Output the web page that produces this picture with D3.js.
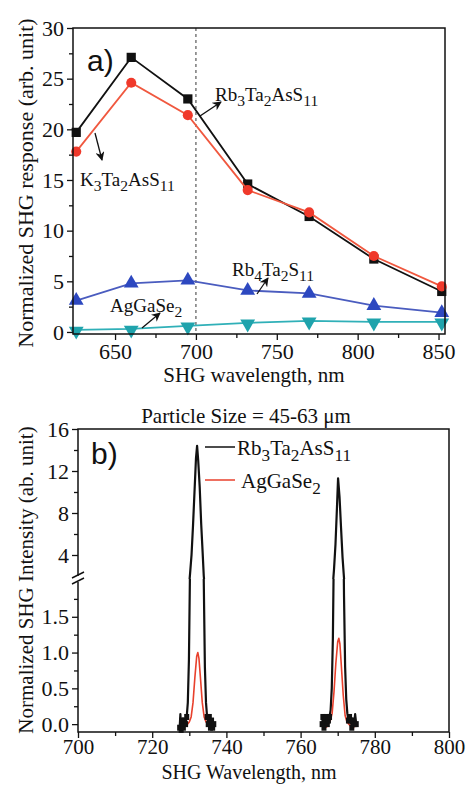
<!DOCTYPE html>
<html><head><meta charset="utf-8">
<script src="https://cdn.jsdelivr.net/npm/d3@7"></script>
<style>
html,body{margin:0;padding:0;background:#fff;}
svg{display:block;}
text{font-family:"Liberation Serif","Times New Roman",serif;fill:#111;}
.sans{font-family:"Liberation Sans",Arial,sans-serif;}
</style></head>
<body>
<svg id="c" width="467" height="785"></svg>
<script>
// ---------- Data: panel a ----------
const wavelengthsA = [626, 660, 695, 732, 770, 810, 852];
const rb3Ta2AsS11 = [19.7, 27.1, 23.0, 14.6, 11.4, 7.2, 4.0];
const k3Ta2AsS11  = [17.8, 24.6, 21.4, 14.0, 11.8, 7.5, 4.5];
const rb4Ta2S11   = [3.1, 4.8, 5.1, 4.1, 3.8, 2.6, 1.9];
const agGaSe2A    = [0.2, 0.3, 0.6, 0.9, 1.1, 1.0, 1.0];
const xTicksA = [650, 700, 750, 800, 850];
const yTicksA = [0, 5, 10, 15, 20, 25, 30];

// ---------- Data: panel b ----------
const blackX1 = [727.4,727.6,727.8,728.0,728.2,728.4,728.7,729.0,729.3,729.6,729.9,730.2,730.6,731.0,731.4,731.8,732.1,732.4,732.8,733.2,733.6,733.9,734.2,734.5,734.8,735.1,735.4,735.7,736.0,736.3,736.6];
const blackY1 = [-0.05,0.14,-0.08,0.05,0.02,-0.05,0.05,0.0,0.1,0.3,0.9,2.2,4.0,6.8,10.0,13.2,14.4,13.0,10.5,7.0,4.2,2.0,0.8,0.3,0.1,0.0,0.1,-0.05,0.05,-0.05,0.0];
const blackX2 = [765.8,766.0,766.3,766.6,766.9,767.2,767.5,767.8,768.1,768.4,768.7,769.0,769.4,769.8,770.1,770.5,770.9,771.3,771.7,772.0,772.3,772.6,772.9,773.2,773.5,773.8,774.1,774.4,774.7,775.0];
const blackY2 = [0.0,0.1,-0.05,0.05,0.1,0.0,0.05,0.1,0.2,0.5,1.2,2.6,5.0,8.5,11.3,9.5,6.6,3.8,1.8,0.8,0.35,0.15,0.05,0.1,0.05,-0.05,0.05,0.0,0.14,0.0];
const redX1 = [729.5,730.0,730.5,731.0,731.5,732.0,732.3,732.6,733.0,733.5,734.0,734.5,735.0];
const redY1 = [0.0,0.03,0.1,0.3,0.65,0.95,1.0,0.92,0.65,0.3,0.1,0.03,0.0];
const redX2 = [765.8,766.5,767.0,767.5,768.0,768.5,769.0,769.5,770.0,770.3,770.6,771.0,771.5,772.0,772.5,773.0,773.5,774.5];
const redY2 = [-0.05,-0.05,-0.04,0.0,0.05,0.15,0.45,0.85,1.15,1.2,1.12,0.8,0.4,0.12,0.03,0.0,-0.03,-0.05];
const xTicksB = [700, 720, 740, 760, 780, 800];
const yTicksBUpper = [4, 8, 12, 16];
const yTicksBLower = [0.0, 0.5, 1.0, 1.5];

const svg = d3.select("#c");

function chem(g, x, y, str, size, anchor) {
  const t = g.append("text").attr("x", x).attr("y", y)
    .attr("font-size", size).attr("text-anchor", anchor || "start");
  const parts = str.match(/(\d+|\D+)/g);
  let sub = false;
  parts.forEach(p => {
    const isNum = /^\d+$/.test(p);
    const ts = t.append("tspan").text(p);
    if (isNum && !sub) { ts.attr("dy", size * 0.28).attr("font-size", size * 0.82); sub = true; }
    else if (isNum) { ts.attr("font-size", size * 0.82); }
    else if (!isNum && sub) { ts.attr("dy", -size * 0.28); sub = false; }
  });
  return t;
}

svg.append("defs").append("marker").attr("id", "arr")
  .attr("viewBox", "0 0 10 10").attr("refX", 9).attr("refY", 5)
  .attr("markerWidth", 7).attr("markerHeight", 7).attr("orient", "auto")
  .append("path").attr("d", "M0,0 L10,5 L0,10 L3,5 z").attr("fill", "#111");

// ================= Panel a =================
const A = {l: 73, r: 445, t: 28, b: 334};
const xA = d3.scaleLinear().domain([624, 854]).range([A.l, A.r]);
const yA = d3.scaleLinear().domain([-0.2, 30]).range([A.b, A.t]);
const gA = svg.append("g");

gA.append("line").attr("x1", xA(700)).attr("x2", xA(700)).attr("y1", A.t).attr("y2", A.b)
  .attr("stroke", "#666").attr("stroke-width", 1.3).attr("stroke-dasharray", "3,3");

const seriesA = [
  {v: rb3Ta2AsS11, color: "#111", line: "#111", sym: d3.symbolSquare, size: 85, rot: 0},
  {v: k3Ta2AsS11, color: "#f0392b", line: "#f0583f", sym: d3.symbolCircle, size: 80, rot: 0},
  {v: rb4Ta2S11, color: "#2d48c0", line: "#4a5cbf", sym: d3.symbolTriangle, size: 95, rot: 0},
  {v: agGaSe2A, color: "#1fa3ac", line: "#30b0b8", sym: d3.symbolTriangle, size: 95, rot: 180}
];
seriesA.forEach(s => {
  const pts = wavelengthsA.map((w, i) => [w, s.v[i]]);
  gA.append("path").datum(pts)
    .attr("d", d3.line().x(d => xA(d[0])).y(d => yA(d[1])))
    .attr("fill", "none").attr("stroke", s.line).attr("stroke-width", 1.8);
  gA.selectAll(null).data(pts).enter().append("path")
    .attr("d", d3.symbol().type(s.sym).size(s.size))
    .attr("transform", d => `translate(${xA(d[0])},${yA(d[1]) + (s.rot ? 1 : 0)}) rotate(${s.rot})`)
    .attr("fill", s.color);
});

gA.append("rect").attr("x", A.l).attr("y", A.t).attr("width", A.r - A.l).attr("height", A.b - A.t)
  .attr("fill", "none").attr("stroke", "#111").attr("stroke-width", 1.5);
const axXA = gA.append("g").attr("transform", `translate(0,${A.b})`)
  .call(d3.axisBottom(xA).tickValues(xTicksA).tickSize(6).tickFormat(d3.format("d")));
const axXAm = gA.append("g").attr("transform", `translate(0,${A.b})`)
  .call(d3.axisBottom(xA).tickValues([675, 725, 775, 825]).tickSize(4).tickFormat(""));
const axYA = gA.append("g").attr("transform", `translate(${A.l},0)`)
  .call(d3.axisLeft(yA).tickValues(yTicksA).tickSize(6).tickFormat(d3.format("d")));
const axYAm = gA.append("g").attr("transform", `translate(${A.l},0)`)
  .call(d3.axisLeft(yA).tickValues([2.5, 7.5, 12.5, 17.5, 22.5, 27.5]).tickSize(4).tickFormat(""));
[axXA, axXAm, axYA, axYAm].forEach(a => {
  a.select(".domain").remove();
  a.selectAll("line").attr("stroke", "#111").attr("stroke-width", 1.3);
  a.selectAll("text").attr("font-size", 22).attr("fill", "#111")
    .attr("font-family", '"Liberation Serif", serif');
});

gA.append("text").attr("class", "sans").attr("x", 87).attr("y", 71).attr("font-size", 30).text("a)");
gA.append("text").attr("x", 254).attr("y", 382).attr("font-size", 21).attr("text-anchor", "middle")
  .text("SHG wavelength, nm");
gA.append("text").attr("transform", "translate(33,183) rotate(-90)").attr("font-size", 22)
  .attr("text-anchor", "middle").text("Normalized SHG response (arb. unit)");

chem(gA, 215, 101, "Rb3Ta2AsS11", 19);
chem(gA, 80, 186, "K3Ta2AsS11", 19);
chem(gA, 232, 276, "Rb4Ta2S11", 19);
chem(gA, 110, 312, "AgGaSe2", 19);
const arrows = [[200, 116, 221, 102], [95, 133, 102, 160], [257, 294, 268, 278], [142, 328, 160, 313]];
arrows.forEach(a => gA.append("line").attr("x1", a[0]).attr("y1", a[1]).attr("x2", a[2]).attr("y2", a[3])
  .attr("stroke", "#111").attr("stroke-width", 1.3).attr("marker-end", "url(#arr)"));

// ================= Panel b =================
const B = {l: 78, r: 449, t: 429, b: 732, brk: 579};
const xB = d3.scaleLinear().domain([700, 800]).range([B.l, B.r]);
const yBU = d3.scaleLinear().domain([2, 16]).range([576, B.t]);
const yBL = d3.scaleLinear().domain([-0.11, 2.0]).range([B.b, 581]);
const gB = svg.append("g");
const defs = svg.select("defs");
defs.append("clipPath").attr("id", "clipU").append("rect")
  .attr("x", B.l).attr("y", B.t).attr("width", B.r - B.l).attr("height", B.brk - B.t);
defs.append("clipPath").attr("id", "clipL").append("rect")
  .attr("x", B.l).attr("y", B.brk).attr("width", B.r - B.l).attr("height", B.b - B.brk);

const seriesB = [
  {x: blackX1, y: blackY1, c: "#111", w: 2.2},
  {x: blackX2, y: blackY2, c: "#111", w: 2.2},
  {x: redX1, y: redY1, c: "#e8402c", w: 1.6},
  {x: redX2, y: redY2, c: "#e8402c", w: 1.6}
];
[["clipU", yBU], ["clipL", yBL]].forEach(([clip, ys]) => {
  const g = gB.append("g").attr("clip-path", `url(#${clip})`);
  seriesB.forEach(s => {
    const pts = s.x.map((x, i) => [x, s.y[i]]);
    g.append("path").datum(pts)
      .attr("d", d3.line().x(d => xB(d[0])).y(d => ys(d[1])))
      .attr("fill", "none").attr("stroke", s.c).attr("stroke-width", s.w).attr("stroke-linejoin", "round");
  });
});
[[blackX1, blackY1], [blackX2, blackY2]].forEach(([xs, ysv]) => {
  const pts = xs.map((x, i) => [x, ysv[i]]).filter(d => d[1] < 0.12);
  gB.selectAll(null).data(pts).enter().append("rect")
    .attr("x", d => xB(d[0]) - 2.5).attr("y", d => yBL(d[1]) - 3)
    .attr("width", 5).attr("height", 6).attr("fill", "#111");
});

const fr = gB.append("g").attr("stroke", "#111").attr("stroke-width", 1.5).attr("fill", "none");
fr.append("path").attr("d", `M${B.l},${B.brk - 3} V${B.t} H${B.r} V${B.b} H${B.l} V${B.brk + 3}`);
fr.append("line").attr("x1", B.l - 6).attr("y1", B.brk - 1).attr("x2", B.l + 6).attr("y2", B.brk - 7);
fr.append("line").attr("x1", B.l - 6).attr("y1", B.brk + 5).attr("x2", B.l + 6).attr("y2", B.brk - 1);

const axXB = gB.append("g").attr("transform", `translate(0,${B.b})`)
  .call(d3.axisBottom(xB).tickValues(xTicksB).tickSize(6).tickFormat(d3.format("d")));
const axXBm = gB.append("g").attr("transform", `translate(0,${B.b})`)
  .call(d3.axisBottom(xB).tickValues([710, 730, 750, 770, 790]).tickSize(4).tickFormat(""));
const axYBU = gB.append("g").attr("transform", `translate(${B.l},0)`)
  .call(d3.axisLeft(yBU).tickValues(yTicksBUpper).tickSize(6).tickFormat(d3.format("d")));
const axYBUm = gB.append("g").attr("transform", `translate(${B.l},0)`)
  .call(d3.axisLeft(yBU).tickValues([6, 10, 14]).tickSize(4).tickFormat(""));
const axYBL = gB.append("g").attr("transform", `translate(${B.l},0)`)
  .call(d3.axisLeft(yBL).tickValues(yTicksBLower).tickSize(6).tickFormat(d3.format(".1f")));
const axYBLm = gB.append("g").attr("transform", `translate(${B.l},0)`)
  .call(d3.axisLeft(yBL).tickValues([0.25, 0.75, 1.25, 1.75]).tickSize(4).tickFormat(""));
[axXB, axXBm, axYBU, axYBUm, axYBL, axYBLm].forEach(a => {
  a.select(".domain").remove();
  a.selectAll("line").attr("stroke", "#111").attr("stroke-width", 1.3);
  a.selectAll("text").attr("font-size", 22).attr("fill", "#111")
    .attr("font-family", '"Liberation Serif", serif');
});
axXB.selectAll("text").attr("font-size", 21).attr("y", 7);

gB.append("text").attr("x", 246).attr("y", 423).attr("font-size", 21).attr("text-anchor", "middle")
  .text("Particle Size = 45-63 μm");
gB.append("text").attr("class", "sans").attr("x", 91).attr("y", 464).attr("font-size", 30).text("b)");
gB.append("line").attr("x1", 205).attr("x2", 235).attr("y1", 447).attr("y2", 447).attr("stroke", "#111").attr("stroke-width", 1.5);
chem(gB, 237, 455, "Rb3Ta2AsS11", 21);
gB.append("line").attr("x1", 205).attr("x2", 235).attr("y1", 480).attr("y2", 480).attr("stroke", "#e8402c").attr("stroke-width", 1.5);
chem(gB, 241, 488, "AgGaSe2", 21);

gB.append("text").attr("x", 249).attr("y", 779).attr("font-size", 20).attr("text-anchor", "middle")
  .text("SHG Wavelength, nm");
gB.append("text").attr("transform", "translate(33,580) rotate(-90)").attr("font-size", 21)
  .attr("text-anchor", "middle").text("Normalized SHG Intensity (ab. unit)");
</script>
</body></html>
